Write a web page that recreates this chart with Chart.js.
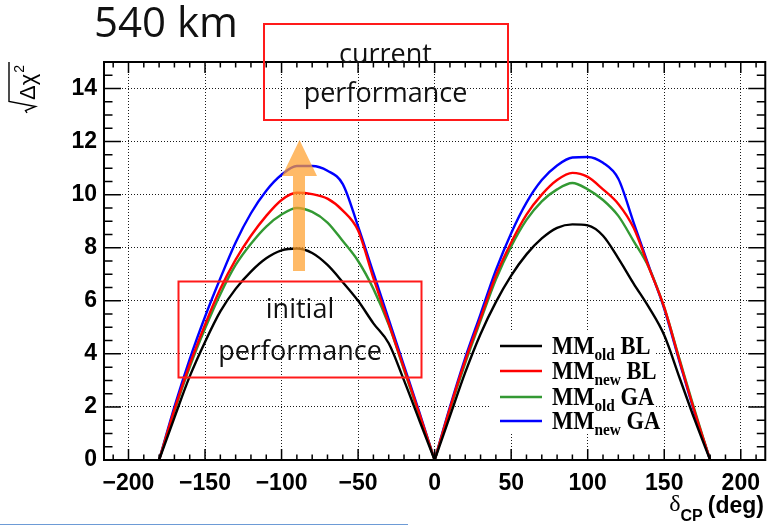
<!DOCTYPE html>
<html>
<head>
<meta charset="utf-8">
<script src="https://cdn.jsdelivr.net/npm/chart.js@4.4.0/dist/chart.umd.min.js"></script>
<style>
html, body { margin: 0; padding: 0; background: #fff; }
</style>
</head>
<body>
<canvas id="sensChart" width="770" height="526"></canvas>
<script>
// delta_CP grid (deg) and sqrt(delta chi^2)
var deltaCP = [-180, -170, -160, -150, -140, -130, -120, -110, -100, -90, -80, -70, -60, -50, -40, -30, -20, -10,
    0, 10, 20, 30, 40, 50, 60, 70, 80, 90, 100, 110, 120, 130, 140, 150, 160, 170, 180];
var mmOldBL = [0, 1.6, 3.15, 4.45, 5.6, 6.45, 7.1, 7.6, 7.9, 7.97, 7.8, 7.35, 6.7, 6.0, 5.15, 4.4, 3.0, 1.5,
    0, 1.65, 3.3, 4.75, 5.95, 6.95, 7.75, 8.35, 8.75, 8.88, 8.84, 8.45, 7.6, 6.65, 5.75, 4.7, 3.1, 1.5, 0];
var mmNewBL = [0, 1.9, 3.6, 5.1, 6.45, 7.55, 8.45, 9.2, 9.8, 10.07, 10.02, 9.85, 9.4, 8.65, 6.85, 5.15, 3.45, 1.75,
    0, 1.95, 3.75, 5.35, 6.95, 8.2, 9.25, 10.0, 10.55, 10.82, 10.67, 10.2, 9.65, 8.75, 7.25, 5.75, 3.75, 1.8, 0];
var mmOldGA = [0, 1.85, 3.5, 4.95, 6.25, 7.35, 8.15, 8.8, 9.25, 9.5, 9.35, 8.95, 8.25, 7.5, 6.45, 5.1, 3.4, 1.7,
    0, 1.9, 3.65, 5.25, 6.8, 8.05, 9.05, 9.75, 10.2, 10.44, 10.2, 9.8, 9.2, 8.25, 7.25, 5.75, 3.8, 1.85, 0];
var mmNewGA = [0, 2.0, 3.8, 5.4, 6.85, 8.2, 9.3, 10.15, 10.75, 11.08, 11.08, 10.9, 10.4, 8.8, 7.05, 5.3, 3.55, 1.8,
    0, 2.0, 3.85, 5.5, 7.15, 8.55, 9.7, 10.55, 11.1, 11.4, 11.42, 11.2, 10.6, 8.95, 7.3, 5.7, 3.7, 1.75, 0];

var xTicks = [-200, -150, -100, -50, 0, 50, 100, 150, 200];
var yTicks = [0, 2, 4, 6, 8, 10, 12, 14];

// legend: [main, subscript, suffix]
var legendLabels = [['MM', 'old', ' BL'], ['MM', 'new', ' BL'], ['MM', 'old', ' GA'], ['MM', 'new', ' GA']];
var lineColors = ['#000000', '#ff0000', '#339933', '#0000ff'];

// each curve is drawn as two humps so the zeros at 0 and +-180 stay sharp
function hump(ys, from, to) {
    var pts = [];
    deltaCP.forEach(function (x, i) {
        if (x >= from && x <= to) pts.push({ x: x, y: ys[i] });
    });
    return pts;
}

var allSeries = [mmOldBL, mmNewBL, mmOldGA, mmNewGA];
var datasets = [];
allSeries.forEach(function (ys, i) {
    [[-180, 0], [0, 180]].forEach(function (r) {
        datasets.push({
            label: legendLabels[i].join(''),
            data: hump(ys, r[0], r[1]),
            borderColor: lineColors[i],
            borderWidth: 2.4,
            pointRadius: 0,
            fill: false,
            cubicInterpolationMode: 'monotone'
        });
    });
});

function drawTicksAndFrame(chart) {
    var ctx = chart.ctx, a = chart.chartArea;
    var xs = chart.scales.x, ys = chart.scales.y;
    ctx.save();
    ctx.strokeStyle = '#000';
    ctx.lineWidth = 1.5;
    ctx.beginPath();
    for (var v = -210; v <= 210; v += 10) {
        var px = xs.getPixelForValue(v);
        var len = v % 50 === 0 ? 11 : 5.5;
        ctx.moveTo(px, a.bottom); ctx.lineTo(px, a.bottom - len);
        ctx.moveTo(px, a.top); ctx.lineTo(px, a.top + len);
    }
    for (var w = 0.5; w < 15; w += 0.5) {
        var py = ys.getPixelForValue(w);
        var l2 = w % 2 === 0 ? 17 : 8.5;
        ctx.moveTo(a.left, py); ctx.lineTo(a.left + l2, py);
        ctx.moveTo(a.right, py); ctx.lineTo(a.right - l2, py);
    }
    ctx.stroke();
    ctx.lineWidth = 2;
    ctx.strokeRect(a.left, a.top, a.right - a.left, a.bottom - a.top);
    ctx.restore();
}

function squeezedText(ctx, txt, x, y, sx) {
    ctx.save();
    ctx.translate(x, y);
    ctx.scale(sx, 1);
    ctx.fillText(txt, 0, 0);
    var w = ctx.measureText(txt).width * sx;
    ctx.restore();
    return w;
}

function drawLegend(ctx) {
    ctx.save();
    ctx.fillStyle = '#fff';
    ctx.fillRect(490, 331, 166, 102);
    var rows = [346, 371, 397, 421];
    rows.forEach(function (y, i) {
        ctx.strokeStyle = lineColors[i];
        ctx.lineWidth = 2.4;
        ctx.beginPath();
        ctx.moveTo(500, y); ctx.lineTo(542, y);
        ctx.stroke();
        var lab = legendLabels[i];
        var x = 552;
        ctx.fillStyle = '#000';
        ctx.textBaseline = 'alphabetic';
        ctx.textAlign = 'left';
        ctx.font = 'bold 25px "Liberation Serif"';
        x += squeezedText(ctx, lab[0], x, y + 8, 0.9);
        ctx.font = 'bold 17px "Liberation Serif"';
        x += squeezedText(ctx, lab[1], x, y + 14, 0.9);
        ctx.font = 'bold 25px "Liberation Serif"';
        squeezedText(ctx, lab[2], x, y + 8, 0.9);
    });
    ctx.restore();
}

function drawAxisTitles(ctx) {
    ctx.save();
    ctx.fillStyle = '#000';
    // x title: delta_CP (deg)
    ctx.textBaseline = 'alphabetic';
    ctx.textAlign = 'right';
    ctx.font = 'bold 23px "Liberation Sans"';
    ctx.fillText('(deg)', 764, 513);
    var w = ctx.measureText('(deg)').width;
    ctx.font = 'bold 16px "Liberation Sans"';
    ctx.fillText('CP', 764 - w - 5, 521);
    var w2 = ctx.measureText('CP').width;
    ctx.font = '24px "Liberation Serif"';
    ctx.fillText('\u03b4', 764 - w - 5 - w2, 511);

    // y title: sqrt(Delta chi^2), rotated
    ctx.translate(35, 113);
    ctx.rotate(-Math.PI / 2);
    ctx.textAlign = 'left';
    ctx.strokeStyle = '#000';
    ctx.lineWidth = 1.4;
    ctx.beginPath();
    ctx.moveTo(0, -8); ctx.lineTo(2.5, -9.5); ctx.lineTo(6.5, 0.5); ctx.lineTo(11.5, -26); ctx.lineTo(51, -26);
    ctx.stroke();
    ctx.font = '22px "Liberation Sans"';
    ctx.fillText('\u0394\u03c7', 13, 0);
    var dw = ctx.measureText('\u0394\u03c7').width;
    ctx.font = '14px "Liberation Sans"';
    ctx.fillText('2', 13 + dw + 1, -11);
    ctx.restore();
}

function drawNotes(ctx) {
    ctx.save();
    // orange arrow
    ctx.fillStyle = 'rgba(255, 160, 45, 0.72)';
    ctx.beginPath();
    ctx.moveTo(293, 271); ctx.lineTo(305, 271); ctx.lineTo(305, 176); ctx.lineTo(317, 176);
    ctx.lineTo(299.5, 140); ctx.lineTo(282, 176); ctx.lineTo(293, 176);
    ctx.closePath();
    ctx.fill();

    // red boxes
    ctx.strokeStyle = '#ff1a1a';
    ctx.lineWidth = 2;
    ctx.strokeRect(264, 24, 244, 96);
    ctx.strokeRect(178.5, 281.5, 243, 96);

    ctx.fillStyle = '#111';
    ctx.textAlign = 'center';
    ctx.textBaseline = 'alphabetic';
    ctx.font = '27px "Open Sans"';
    ctx.fillText('current', 385.5, 63);
    ctx.fillText('performance', 385.5, 102);
    ctx.fillText('initial', 300, 318);
    ctx.fillText('performance', 300, 360);

    // title
    ctx.textAlign = 'left';
    ctx.font = '42px "Open Sans"';
    ctx.fillText('540 km', 94, 37);

    // thin line at the bottom edge
    ctx.strokeStyle = '#6d9bd6';
    ctx.lineWidth = 1;
    ctx.beginPath();
    ctx.moveTo(0, 524.5); ctx.lineTo(408, 524.5);
    ctx.stroke();
    ctx.restore();
}

var decorPlugin = {
    id: 'decor',
    afterDraw: function (chart) {
        var ctx = chart.ctx;
        drawTicksAndFrame(chart);
        drawLegend(ctx);
        drawAxisTitles(ctx);
        drawNotes(ctx);
    }
};

var ctx = document.getElementById('sensChart').getContext('2d');
var sensChart = new Chart(ctx, {
    type: 'line',
    data: { datasets: datasets },
    plugins: [decorPlugin],
    options: {
        responsive: false,
        animation: false,
        layout: { padding: { left: 0, right: 1, top: 62, bottom: 0 } },
        plugins: { legend: { display: false }, tooltip: { enabled: false } },
        scales: {
            x: {
                type: 'linear',
                min: -216,
                max: 216,
                afterBuildTicks: function (s) { s.ticks = xTicks.map(function (v) { return { value: v }; }); },
                afterFit: function (s) { s.height = 66; },
                grid: { color: 'rgba(0,0,0,0.9)', lineWidth: 1, drawTicks: false },
                border: { display: false, dash: [1, 2] },
                ticks: {
                    padding: 10,
                    color: '#000',
                    font: { family: 'Liberation Sans', size: 23, weight: 'bold' },
                    callback: function (v) { return v < 0 ? '\u2212' + Math.abs(v) : String(v); }
                }
            },
            y: {
                min: 0,
                max: 15,
                afterBuildTicks: function (s) { s.ticks = yTicks.map(function (v) { return { value: v }; }); },
                afterFit: function (s) { s.width = 104; },
                grid: { color: 'rgba(0,0,0,0.9)', lineWidth: 1, drawTicks: false },
                border: { display: false, dash: [1, 2] },
                ticks: {
                    padding: 7,
                    color: '#000',
                    font: { family: 'Liberation Sans', size: 23, weight: 'bold' }
                }
            }
        }
    }
});
</script>
</body>
</html>
